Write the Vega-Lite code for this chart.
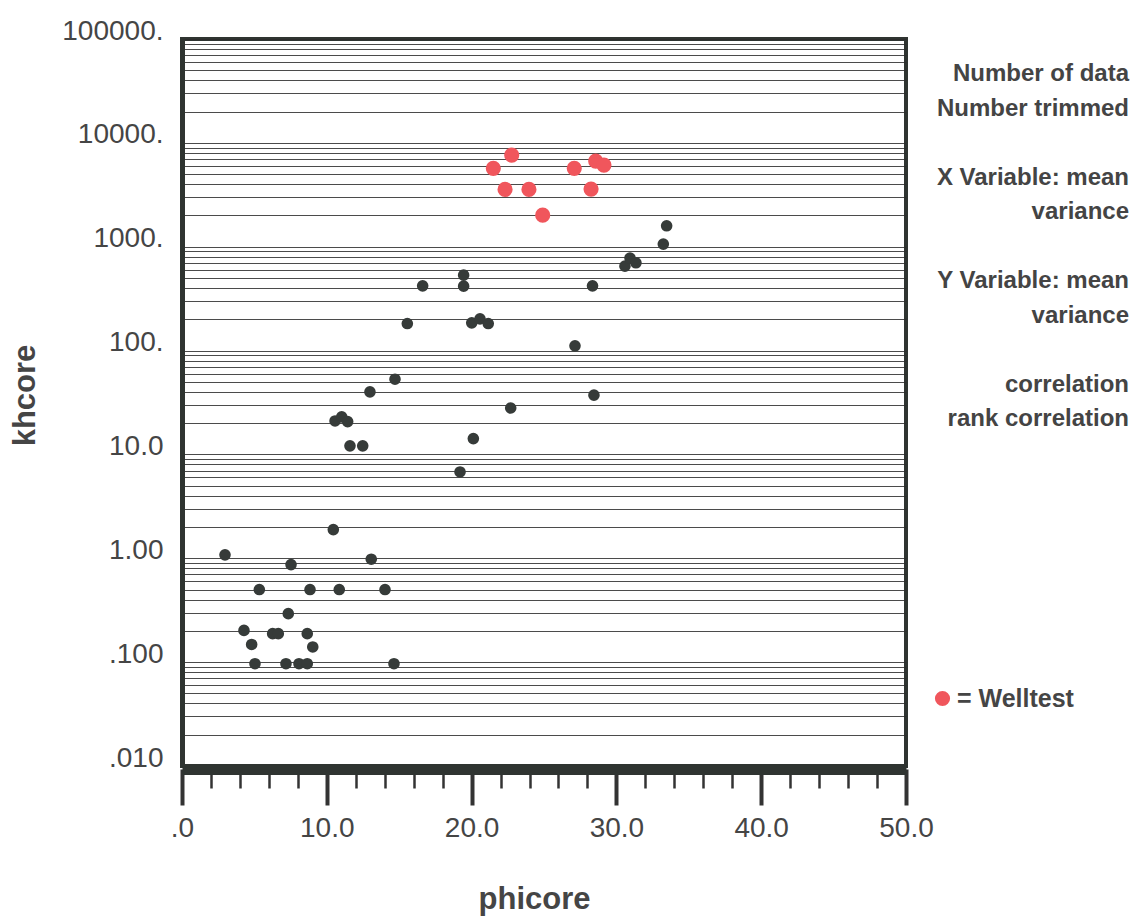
{
  "$schema": "https://vega.github.io/schema/vega-lite/v6.json",
  "width": 724,
  "height": 727,
  "autosize": {"type": "none"},
  "padding": {"left": 182, "top": 39, "right": 230, "bottom": 154},
  "background": "white",
  "config": {"view": {"stroke": "#2f3431", "strokeWidth": 4}},
  "title": {
    "text": ["Number of data", "Number trimmed", "\u200b", "X Variable: mean", "variance", "\u200b", "Y Variable: mean", "variance", "\u200b", "correlation", "rank correlation"],
    "orient": "none",
    "anchor": "end",
    "frame": "group",
    "align": "right",
    "baseline": "top",
    "font": "Liberation Sans",
    "fontSize": 24,
    "fontWeight": "bold",
    "color": "#444444",
    "lineHeight": 34.5,
    "dx": 947,
    "dy": 23
  },
  "layer": [
    {
      "data": {"values": [
        {"phicore": 16.62, "khcore": 420, "source": "core"},
        {"phicore": 19.45, "khcore": 532, "source": "core"},
        {"phicore": 19.45, "khcore": 417, "source": "core"},
        {"phicore": 28.35, "khcore": 420, "source": "core"},
        {"phicore": 30.59, "khcore": 650, "source": "core"},
        {"phicore": 30.94, "khcore": 777, "source": "core"},
        {"phicore": 31.35, "khcore": 700, "source": "core"},
        {"phicore": 33.24, "khcore": 1060, "source": "core"},
        {"phicore": 33.47, "khcore": 1590, "source": "core"},
        {"phicore": 15.56, "khcore": 182, "source": "core"},
        {"phicore": 20.01, "khcore": 185, "source": "core"},
        {"phicore": 20.58, "khcore": 202, "source": "core"},
        {"phicore": 21.15, "khcore": 182, "source": "core"},
        {"phicore": 14.71, "khcore": 53, "source": "core"},
        {"phicore": 12.98, "khcore": 40, "source": "core"},
        {"phicore": 22.7, "khcore": 28, "source": "core"},
        {"phicore": 10.57, "khcore": 21, "source": "core"},
        {"phicore": 11.03, "khcore": 23, "source": "core"},
        {"phicore": 11.44, "khcore": 20.7, "source": "core"},
        {"phicore": 11.6, "khcore": 12.1, "source": "core"},
        {"phicore": 12.48, "khcore": 12.1, "source": "core"},
        {"phicore": 20.12, "khcore": 14.2, "source": "core"},
        {"phicore": 19.2, "khcore": 6.78, "source": "core"},
        {"phicore": 27.14, "khcore": 111, "source": "core"},
        {"phicore": 28.45, "khcore": 37.2, "source": "core"},
        {"phicore": 10.45, "khcore": 1.89, "source": "core"},
        {"phicore": 2.97, "khcore": 1.08, "source": "core"},
        {"phicore": 7.53, "khcore": 0.87, "source": "core"},
        {"phicore": 13.07, "khcore": 0.98, "source": "core"},
        {"phicore": 5.34, "khcore": 0.5, "source": "core"},
        {"phicore": 8.84, "khcore": 0.5, "source": "core"},
        {"phicore": 10.86, "khcore": 0.5, "source": "core"},
        {"phicore": 14.02, "khcore": 0.5, "source": "core"},
        {"phicore": 7.34, "khcore": 0.293, "source": "core"},
        {"phicore": 4.28, "khcore": 0.202, "source": "core"},
        {"phicore": 6.26, "khcore": 0.188, "source": "core"},
        {"phicore": 6.65, "khcore": 0.188, "source": "core"},
        {"phicore": 8.65, "khcore": 0.188, "source": "core"},
        {"phicore": 4.81, "khcore": 0.148, "source": "core"},
        {"phicore": 9.03, "khcore": 0.14, "source": "core"},
        {"phicore": 5.04, "khcore": 0.0966, "source": "core"},
        {"phicore": 7.18, "khcore": 0.0966, "source": "core"},
        {"phicore": 8.08, "khcore": 0.0966, "source": "core"},
        {"phicore": 8.65, "khcore": 0.0966, "source": "core"},
        {"phicore": 14.64, "khcore": 0.0966, "source": "core"},
        {"phicore": 22.77, "khcore": 7630, "source": "welltest"},
        {"phicore": 21.5, "khcore": 5680, "source": "welltest"},
        {"phicore": 22.31, "khcore": 3565, "source": "welltest"},
        {"phicore": 23.96, "khcore": 3565, "source": "welltest"},
        {"phicore": 24.91, "khcore": 2014, "source": "welltest"},
        {"phicore": 27.09, "khcore": 5680, "source": "welltest"},
        {"phicore": 28.57, "khcore": 6680, "source": "welltest"},
        {"phicore": 29.14, "khcore": 6110, "source": "welltest"},
        {"phicore": 28.25, "khcore": 3590, "source": "welltest"}
      ]},
      "mark": {"type": "circle", "opacity": 1},
      "encoding": {
        "x": {
          "field": "phicore", "type": "quantitative",
          "scale": {"domain": [0, 50], "nice": false, "zero": false},
          "axis": {
            "values": [0, 2, 4, 6, 8, 10, 12, 14, 16, 18, 20, 22, 24, 26, 28, 30, 32, 34, 36, 38, 40, 42, 44, 46, 48, 50],
            "tickCount": 200,
            "grid": false,
            "domain": true,
            "domainColor": "#2f3431",
            "domainWidth": 11,
            "offset": 3,
            "tickColor": "#333333",
            "tickSize": {"condition": {"test": "datum.value % 10 === 0", "value": 36}, "value": 19},
            "tickWidth": {"condition": {"test": "datum.value % 10 === 0", "value": 4}, "value": 2.5},
            "labelExpr": "datum.value % 10 === 0 ? (datum.value === 0 ? '.0' : format(datum.value, '.1f')) : ''",
            "labelFont": "Liberation Sans",
            "labelFontSize": 28,
            "labelColor": "#454545",
            "labelPadding": 9,
            "labelFlush": false,
            "labelOverlap": false,
            "title": "phicore",
            "titleFont": "Liberation Sans",
            "titleFontSize": 31,
            "titleFontWeight": "bold",
            "titleColor": "#454545",
            "titlePadding": 42,
            "titleX": 352
          }
        },
        "y": {
          "field": "khcore", "type": "quantitative",
          "scale": {"type": "log", "domain": [0.01, 100000], "nice": false},
          "axis": {
            "values": [0.01, 0.02, 0.03, 0.04, 0.05, 0.06, 0.07, 0.08, 0.09, 0.1, 0.2, 0.3, 0.4, 0.5, 0.6, 0.7, 0.8, 0.9, 1, 2, 3, 4, 5, 6, 7, 8, 9, 10, 20, 30, 40, 50, 60, 70, 80, 90, 100, 200, 300, 400, 500, 600, 700, 800, 900, 1000, 2000, 3000, 4000, 5000, 6000, 7000, 8000, 9000, 10000, 20000, 30000, 40000, 50000, 60000, 70000, 80000, 90000, 100000],
            "tickCount": 200,
            "grid": true,
            "gridColor": "#2b2b2b",
            "gridWidth": 1,
            "gridOpacity": 0.85,
            "ticks": false,
            "tickSize": 0,
            "domain": true,
            "domainColor": "#2f3431",
            "domainWidth": 5,
            "labelExpr": "datum.value == 100000 ? '100000.' : datum.value == 10000 ? '10000.' : datum.value == 1000 ? '1000.' : datum.value == 100 ? '100.' : datum.value == 10 ? '10.0' : datum.value == 1 ? '1.00' : datum.value == 0.1 ? '.100' : datum.value == 0.01 ? '.010' : ''",
            "labelFont": "Liberation Sans",
            "labelFontSize": 28,
            "labelColor": "#454545",
            "labelBaseline": "alphabetic",
            "labelPadding": 19,
            "labelFlush": false,
            "labelOverlap": false,
            "title": "khcore",
            "titleFont": "Liberation Sans",
            "titleFontSize": 31,
            "titleFontWeight": "bold",
            "titleColor": "#454545",
            "titlePadding": 20,
            "titleY": 356
          }
        },
        "color": {
          "field": "source", "type": "nominal",
          "scale": {"domain": ["core", "welltest"], "range": ["#363b39", "#f0565c"]},
          "legend": {
            "values": ["welltest"],
            "orient": "none",
            "legendX": 748,
            "legendY": 647,
            "title": null,
            "symbolType": "circle",
            "symbolSize": 210,
            "symbolStrokeWidth": 0,
            "labelExpr": "'= Welltest'",
            "labelFont": "Liberation Sans",
            "labelFontSize": 25,
            "labelFontWeight": "bold",
            "labelColor": "#454545",
            "labelOffset": 2
          }
        },
        "size": {
          "field": "source", "type": "nominal",
          "scale": {"domain": ["core", "welltest"], "range": [135, 230]},
          "legend": null
        }
      }
    },
    {
      "mark": {"type": "rule", "color": "#2f3431", "strokeWidth": 11, "xOffset": 5, "y2Offset": 8},
      "encoding": {
        "x": {"datum": 50},
        "y": {"datum": 100000},
        "y2": {"datum": 0.01}
      }
    }
  ]
}
